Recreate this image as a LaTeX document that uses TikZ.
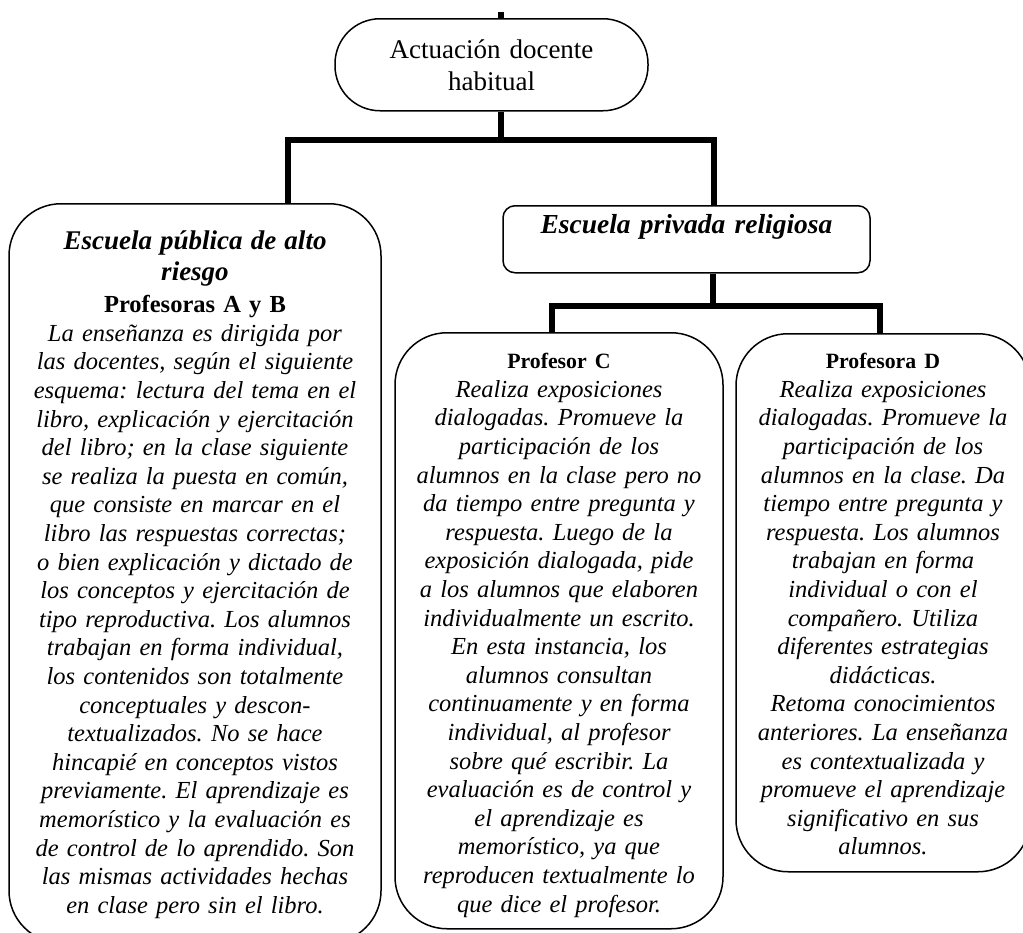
\documentclass[tikz,border=0pt]{standalone}
\usepackage{fontspec}
\setmainfont{Liberation Serif}
\usetikzlibrary{positioning}
\frenchspacing

\begin{document}
\begin{tikzpicture}[x=1pt,y=-1pt,
  caja/.style={draw,line width=1.5pt,inner sep=0pt,align=center,anchor=north},
  conector/.style={line width=5.5pt,line join=miter},
  cuerpo/.style={font=\fontsize{24.5}{28.6}\selectfont\itshape}]
  \useasboundingbox (0,0) rectangle (1023,932);

  % Nivel 1
  \node[caja,rounded corners=45pt,text width=313pt,text height=40pt,text depth=52pt,
    font=\fontsize{27}{32}\selectfont] (actuacion) at (491.5,18) {Actuación docente\\habitual};

  % Nivel 2
  \node[caja,rounded corners=52pt,text width=372pt,text height=46pt,text depth=693pt,cuerpo] (publica) at (195,203)
    {{\fontsize{27}{31}\selectfont\bfseries Escuela pública de alto\\riesgo\par}
     {\fontsize{24.5}{32}\selectfont\upshape\bfseries Profesoras A y B\par}
     La enseñanza es dirigida por\\
     las docentes, según el siguiente\\
     esquema: lectura del tema en el\\
     libro, explicación y ejercitación\\
     del libro; en la clase siguiente\\
     se realiza la puesta en común,\\
     que consiste en marcar en el\\
     libro las respuestas correctas;\\
     o bien explicación y dictado de\\
     los conceptos y ejercitación de\\
     tipo reproductiva. Los alumnos\\
     trabajan en forma individual,\\
     los contenidos son totalmente\\
     conceptuales y descon-\\
     textualizados. No se hace\\
     hincapié en conceptos vistos\\
     previamente. El aprendizaje es\\
     memorístico y la evaluación es\\
     de control de lo aprendido. Son\\
     las mismas actividades hechas\\
     en clase pero sin el libro.};
  \node[caja,rounded corners=12pt,text width=367pt,text height=28pt,text depth=39pt,
    font=\fontsize{27.5}{32}\selectfont\bfseries\itshape] (privada) at (686.5,205) {Escuela privada religiosa};

  % Nivel 3
  \node[caja,rounded corners=52pt,text width=328pt,text height=36pt,text depth=560pt,cuerpo] (profC) at (559,332)
    {{\fontsize{21.8}{28}\selectfont\upshape\bfseries Profesor C\par}
     Realiza exposiciones\\
     dialogadas. Promueve la\\
     participación de los\\
     alumnos en la clase pero no\\
     da tiempo entre pregunta y\\
     respuesta. Luego de la\\
     exposición dialogada, pide\\
     a los alumnos que elaboren\\
     individualmente un escrito.\\
     En esta instancia, los\\
     alumnos consultan\\
     continuamente y en forma\\
     individual, al profesor\\
     sobre qué escribir. La\\
     evaluación es de control y\\
     el aprendizaje es\\
     memorístico, ya que\\
     reproducen textualmente lo\\
     que dice el profesor.};
  \node[caja,rounded corners=52pt,text width=294pt,text height=35pt,text depth=503pt,cuerpo] (profD) at (883,333)
    {{\fontsize{21.8}{28}\selectfont\upshape\bfseries Profesora D\par}
     Realiza exposiciones\\
     dialogadas. Promueve la\\
     participación de los\\
     alumnos en la clase. Da\\
     tiempo entre pregunta y\\
     respuesta. Los alumnos\\
     trabajan en forma\\
     individual o con el\\
     compañero. Utiliza\\
     diferentes estrategias\\
     didácticas.\\
     Retoma conocimientos\\
     anteriores. La enseñanza\\
     es contextualizada y\\
     promueve el aprendizaje\\
     significativo en sus\\
     alumnos.};

  % Conectores
  \coordinate (arriba) at (501,12);
  \coordinate (j1) at (501,140);
  \coordinate (j1i) at (288,140);
  \coordinate (j1d) at (714,140);
  \coordinate (j2) at (713,306);
  \coordinate (j2i) at (552,306);
  \coordinate (j2d) at (880,306);
  \draw[conector] (arriba) -- (arriba |- actuacion.north);
  \draw[conector] (j1 |- actuacion.south) -- (j1);
  \draw[conector] (j1i |- publica.north) -- (j1i) -- (j1d) -- (j1d |- privada.north);
  \draw[conector] (j2 |- privada.south) -- (j2);
  \draw[conector] (j2i |- profC.north) -- (j2i) -- (j2d) -- (j2d |- profD.north);
\end{tikzpicture}
\end{document}
